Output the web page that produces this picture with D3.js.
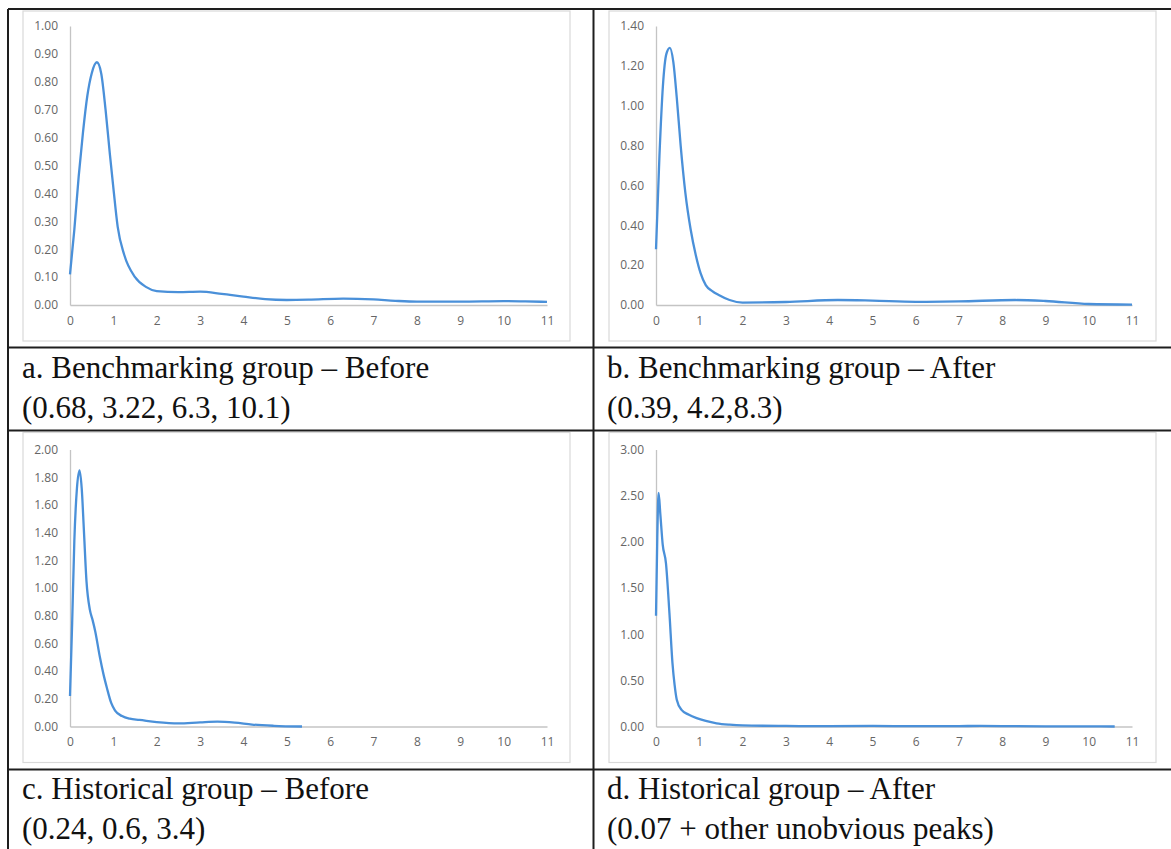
<!DOCTYPE html>
<html>
<head>
<meta charset="utf-8">
<script src="https://cdnjs.cloudflare.com/ajax/libs/d3/7.8.5/d3.min.js"></script>
<style>
	body { margin: 0; background: #fff; }
	.axis path { stroke: #c4c4c4; stroke-width: 1.3px; }
	.frame { fill: none; stroke: #d9d9d9; stroke-width: 1.2px; }
	.grid-line { stroke: #1e1e1e; stroke-width: 2px; }
	.caption { font-family: "Liberation Serif", "Times New Roman", serif; font-size: 31px; fill: #111; }
	.density { fill: none; stroke: #4a90d9; stroke-width: 2.3px; }
</style>
</head>
<body>
<div id="chart"></div>
<script>

// x ticks shared by all four panels
var xTickValues = [0, 1, 2, 3, 4, 5, 6, 7, 8, 9, 10, 11];

// y ticks per panel
var yTicksA = [0, 0.1, 0.2, 0.3, 0.4, 0.5, 0.6, 0.7, 0.8, 0.9, 1.0];
var yTicksB = [0, 0.2, 0.4, 0.6, 0.8, 1.0, 1.2, 1.4];
var yTicksC = [0, 0.2, 0.4, 0.6, 0.8, 1.0, 1.2, 1.4, 1.6, 1.8, 2.0];
var yTicksD = [0, 0.5, 1.0, 1.5, 2.0, 2.5, 3.0];

// density curves, [x, density]
var densityA = [[0, 0.11], [0.1, 0.27], [0.2, 0.46], [0.3, 0.62], [0.4, 0.75], [0.5, 0.83], [0.62, 0.87], [0.72, 0.83],
	[0.82, 0.70], [0.92, 0.54], [1.0, 0.42], [1.1, 0.28], [1.25, 0.18], [1.5, 0.10], [1.75, 0.065], [2.0, 0.05],
	[2.5, 0.046], [3.0, 0.048], [3.5, 0.04], [4.0, 0.03], [4.5, 0.021], [5.0, 0.018], [5.5, 0.019], [6.3, 0.023],
	[7.0, 0.02], [7.5, 0.015], [8.0, 0.012], [9.0, 0.012], [10.0, 0.014], [10.5, 0.013], [11.0, 0.011]];

var densityB = [[0, 0.28], [0.08, 0.75], [0.16, 1.1], [0.24, 1.26], [0.32, 1.29], [0.4, 1.22], [0.48, 1.04], [0.57, 0.8],
	[0.68, 0.56], [0.8, 0.38], [0.92, 0.25], [1.03, 0.16], [1.15, 0.10], [1.3, 0.07], [1.45, 0.05], [1.7, 0.025],
	[2.0, 0.012], [3.0, 0.015], [4.2, 0.025], [5.0, 0.022], [6.0, 0.016], [7.0, 0.018], [8.3, 0.025], [9.0, 0.02],
	[10.0, 0.005], [11.0, 0.002]];

var densityC = [[0, 0.22], [0.05, 0.75], [0.1, 1.34], [0.16, 1.72], [0.22, 1.85], [0.27, 1.72], [0.32, 1.42], [0.38, 1.05],
	[0.46, 0.84], [0.52, 0.77], [0.58, 0.69], [0.69, 0.50], [0.77, 0.38], [0.85, 0.28], [0.95, 0.17], [1.04, 0.115],
	[1.2, 0.075], [1.38, 0.056], [1.6, 0.048], [2.0, 0.032], [2.5, 0.022], [3.0, 0.03], [3.4, 0.035], [3.8, 0.028],
	[4.2, 0.014], [4.7, 0.005], [5.35, 0.0]];

var densityD = [[0, 1.2], [0.03, 2.05], [0.06, 2.53], [0.1, 2.3], [0.155, 1.97], [0.23, 1.77], [0.31, 1.23], [0.38, 0.69],
	[0.43, 0.45], [0.48, 0.29], [0.59, 0.18], [0.75, 0.13], [0.94, 0.09], [1.15, 0.06], [1.4, 0.035], [1.7, 0.02],
	[2.0, 0.012], [3.0, 0.006], [4.0, 0.004], [5.0, 0.006], [6.0, 0.004], [7.0, 0.005], [7.5, 0.006], [8.0, 0.004],
	[9.0, 0.002], [10.0, 0.001], [10.6, 0.0]];

// captions, two lines each
var captionsA = ["a. Benchmarking group \u2013 Before", "(0.68, 3.22, 6.3, 10.1)"];
var captionsB = ["b. Benchmarking group \u2013 After", "(0.39, 4.2,8.3)"];
var captionsC = ["c. Historical group \u2013 Before", "(0.24, 0.6, 3.4)"];
var captionsD = ["d. Historical group \u2013 After", "(0.07 + other unobvious peaks)"];

var width = 1171, height = 849;

var svg = d3.select("#chart").append("svg")
	.attr("width", width)
	.attr("height", height);

// panel placement: col 0 = left, col 1 = right; row 0 = top, row 1 = bottom
var cols = [
	{frameX: 23, axisX0: 70, axisX1: 547, textX: 22},
	{frameX: 609, axisX0: 656, axisX1: 1132, textX: 607}
];
var rows = [
	{frameY: 11, frameH: 330, y0: 305, y1: 26, capY: 378},
	{frameY: 432.5, frameH: 330, y0: 726.5, y1: 449.5, capY: 799}
];

var panels = [
	{col: 0, row: 0, data: densityA, ticks: yTicksA, caption: captionsA},
	{col: 1, row: 0, data: densityB, ticks: yTicksB, caption: captionsB},
	{col: 0, row: 1, data: densityC, ticks: yTicksC, caption: captionsC},
	{col: 1, row: 1, data: densityD, ticks: yTicksD, caption: captionsD}
];

function styleTicks(sel) {
	sel.selectAll(".tick text")
		.style("font-family", "'Open Sans', sans-serif")
		.style("font-size", "12px")
		.style("fill", "#666");
}

panels.forEach(function(p) {
	var c = cols[p.col], r = rows[p.row];
	var g = svg.append("g");

	g.append("rect")
		.attr("class", "frame")
		.attr("x", c.frameX)
		.attr("y", r.frameY)
		.attr("width", 547)
		.attr("height", r.frameH);

	var x = d3.scaleLinear().domain([0, 11]).range([c.axisX0, c.axisX1]);
	var y = d3.scaleLinear().domain([0, d3.max(p.ticks)]).range([r.y0, r.y1]);

	g.append("g")
		.attr("class", "axis")
		.attr("transform", "translate(0," + r.y0 + ")")
		.call(d3.axisBottom(x).tickValues(xTickValues).tickFormat(d3.format("d")).tickSize(0).tickPadding(11))
		.call(styleTicks);

	g.append("g")
		.attr("class", "axis")
		.attr("transform", "translate(" + c.axisX0 + ",0)")
		.call(d3.axisLeft(y).tickValues(p.ticks).tickFormat(d3.format(".2f")).tickSize(0).tickPadding(12))
		.call(styleTicks);

	var line = d3.line()
		.x(function(d) { return x(d[0]); })
		.y(function(d) { return y(d[1]); })
		.curve(d3.curveMonotoneX);

	g.append("path")
		.datum(p.data)
		.attr("class", "density")
		.attr("d", line);

	g.selectAll(".caption")
		.data(p.caption)
		.enter()
		.append("text")
		.attr("class", "caption")
		.attr("x", c.textX)
		.attr("y", function(d, i) { return r.capY + i * 40; })
		.text(function(d) { return d; });
});

// table rules
var rules = [
	[8, 9, width, 9],
	[8, 9, 8, height],
	[593.5, 9, 593.5, height],
	[8, 347.5, width, 347.5],
	[8, 430.5, width, 430.5],
	[8, 769.5, width, 769.5]
];

svg.selectAll(".grid-line")
	.data(rules)
	.enter()
	.append("line")
	.attr("class", "grid-line")
	.attr("x1", function(d) { return d[0]; })
	.attr("y1", function(d) { return d[1]; })
	.attr("x2", function(d) { return d[2]; })
	.attr("y2", function(d) { return d[3]; });

</script>
</body>
</html>
